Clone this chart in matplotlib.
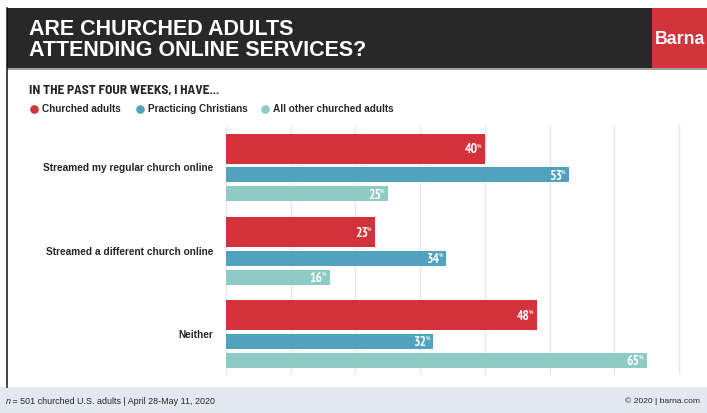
import os
import matplotlib
matplotlib.use("Agg")
import matplotlib.pyplot as plt
from matplotlib import font_manager
from matplotlib.font_manager import FontProperties
from matplotlib.patches import Rectangle
from matplotlib.lines import Line2D
import numpy as np

# ---- data ----
categories = ["Streamed my regular church online",
              "Streamed a different church online",
              "Neither"]
series_names = ["Churched adults", "Practicing Christians", "All other churched adults"]
churched_adults = [40, 23, 48]
practicing_christians = [53, 34, 32]
other_churched = [25, 16, 65]
x_ticks = [0, 10, 20, 30, 40, 50, 60, 70]

# ---- style ----
RED = "#d3323b"
BLUE = "#51a3bd"
TEAL = "#8ecbc4"
DARK = "#282828"
TEXT = "#262626"
GRID = "#e4e7ed"
FOOT_BG = "#e4e8f0"

names = {f.name for f in font_manager.fontManager.ttflist}
SANS = "Liberation Sans" if "Liberation Sans" in names else "DejaVu Sans"


def find_condensed_bold(prefer_semi=False):
    """Pick a narrow/condensed bold face if one is installed."""
    ranked = []
    for f in font_manager.fontManager.ttflist:
        key = (f.name + " " + os.path.basename(f.fname)).lower()
        bold = f.weight in (700, "bold") or "bold" in os.path.basename(f.fname).lower()
        if not bold or "italic" in key or "oblique" in key or "mono" in key:
            continue
        if "extrabold" in key or "black" in key or "semibold" in key:
            continue
        semi = "semicondensed" in key or "semi condensed" in key
        if "narrow" in key:
            rank = 0
        elif semi:
            rank = -1 if prefer_semi else 2
        elif "condensed" in key and not any(s in key for s in ("extra", "ultra")):
            rank = 1
        elif "condensed" in key or f.stretch in ("condensed", "semi-condensed"):
            rank = 3
        else:
            continue
        ranked.append((rank, f.fname))
    if ranked:
        ranked.sort()
        return ranked[0][1]
    return None


cond_file = find_condensed_bold()
semi_file = find_condensed_bold(prefer_semi=True)


def cond_fp(size, fname=cond_file):
    if fname:
        return FontProperties(fname=fname, size=size)
    return FontProperties(family=SANS, weight="bold", size=size * 0.9)


W, H = 707, 413
fig = plt.figure(figsize=(W / 100, H / 100), dpi=100)
fig.patch.set_facecolor("white")


def fx(x):
    return x / W


def fy(y):
    return 1 - y / H


def rect(x0, y0, x1, y1, color, z=0):
    fig.add_artist(Rectangle((fx(x0), fy(y1)), fx(x1) - fx(x0), fy(y0) - fy(y1),
                             transform=fig.transFigure, facecolor=color,
                             edgecolor="none", zorder=z))


# header band, brand block and footer band
rect(7, 8, 652, 68, DARK)
rect(652, 8, W, 68, "#d1343b")
rect(7, 68, W, 69.5, "#a0a0a0")
rect(0, 387, W, H, FOOT_BG)
fig.add_artist(Line2D([fx(7), fx(7)], [fy(8), fy(387)], transform=fig.transFigure,
                      color="#111111", lw=1.1))

fig.text(fx(29), fy(35), "ARE CHURCHED ADULTS", color="white", fontsize=15.5,
         fontweight="bold", family=SANS, va="baseline")
fig.text(fx(29), fy(55.5), "ATTENDING ONLINE SERVICES?", color="white", fontsize=15.5,
         fontweight="bold", family=SANS, va="baseline")
fig.text(fx(655), fy(44.5), "Barna", color="white", fontsize=12.8,
         fontweight="bold", family=SANS, va="baseline")

# subtitle, sized to span its column without growing too tall
renderer = fig.canvas.get_renderer()
sub = fig.text(fx(29), fy(94), "IN THE PAST FOUR WEEKS, I HAVE...", color=TEXT,
               fontproperties=cond_fp(10, semi_file), va="baseline")
w_now = sub.get_window_extent(renderer).width
sub.set_fontsize(min(9.6, sub.get_fontsize() * 195.0 / w_now))

# legend
colors = [RED, BLUE, TEAL]
leg_dot_x = [34, 140, 265]
leg_text_x = [42, 148, 273]
for name, c, dx, tx in zip(series_names, colors, leg_dot_x, leg_text_x):
    fig.add_artist(Line2D([fx(dx)], [fy(109)], transform=fig.transFigure,
                          marker="o", markersize=5.2, color=c, lw=0))
    fig.text(fx(tx), fy(109), name, color=TEXT, fontsize=7.2, fontweight="bold",
             family=SANS, va="center")

# ---- chart ----
px_per_unit = 6.47
x_right = 70.6
ax_left, ax_top, ax_bottom = 226, 125, 375
ax_width = x_right * px_per_unit
ax = fig.add_axes([fx(ax_left), fy(ax_bottom), ax_width / W, (ax_bottom - ax_top) / H])
ax.set_facecolor("none")

group_px = 83.2
y_top = -(167.3 - ax_top) / group_px
y_bot = (ax_bottom - 167.3) / group_px
ax.set_ylim(y_bot, y_top)
ax.set_xlim(0, x_right)

series = [churched_adults, practicing_christians, other_churched]
offsets = [-0.225, 0.091, 0.320]
heights = [0.361, 0.180, 0.180]
ypos = np.arange(len(categories))

num_fp = cond_fp(9.8)
for vals, c, off, h in zip(series, colors, offsets, heights):
    ax.barh(ypos + off, vals, height=h, color=c, zorder=3)
    for yy, v in zip(ypos + off, vals):
        ax.annotate(f"{v}", xy=(v, yy), xytext=(-5.0, -3.4), textcoords="offset points",
                    ha="right", va="baseline", color="white", fontproperties=num_fp,
                    zorder=4)
        ax.annotate("%", xy=(v, yy), xytext=(-2.3, 3.5), textcoords="offset points",
                    ha="right", va="top", color="white", fontsize=3.6,
                    fontweight="bold", zorder=4, family=SANS)

ax.set_xticks(x_ticks)
ax.set_xticklabels([])
ax.grid(axis="x", color=GRID, lw=0.9, zorder=0)
ax.set_yticks(ypos)
ax.set_yticklabels(categories, fontsize=7.25, fontweight="bold", family=SANS, color=TEXT)
ax.tick_params(axis="both", length=0, pad=9.4)
for s in ax.spines.values():
    s.set_visible(False)

# footer
fig.text(fx(6), fy(401.5), "n", color=TEXT, fontsize=6.4, style="italic", family=SANS,
         va="center")
fig.text(fx(10), fy(401.5), " = 501 churched U.S. adults | April 28-May 11, 2020",
         color=TEXT, fontsize=6.4, family=SANS, va="center")
fig.text(fx(700), fy(401.5), "\u00a9 2020 | barna.com", color=TEXT, fontsize=6.1,
         family=SANS, va="center", ha="right")

fig.savefig("out.png", dpi=100)
